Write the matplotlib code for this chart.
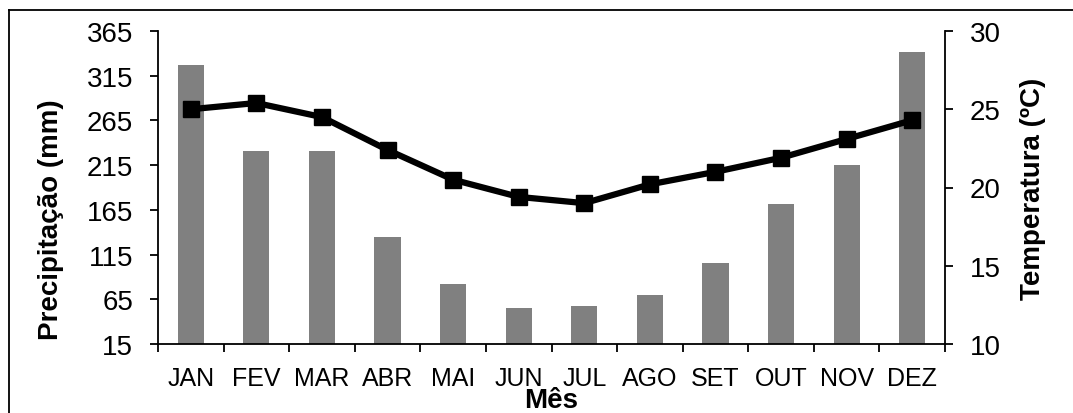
import numpy as np
import matplotlib
matplotlib.use("Agg")
import matplotlib.pyplot as plt
from matplotlib.lines import Line2D

plt.rcParams['font.family'] = ['Liberation Sans', 'DejaVu Sans']

# monthly data
meses = ['JAN', 'FEV', 'MAR', 'ABR', 'MAI', 'JUN', 'JUL', 'AGO', 'SET', 'OUT', 'NOV', 'DEZ']
precipitacao = [327, 231, 231, 135, 82, 55, 57, 70, 106, 171, 215, 342]
temperatura = [25.0, 25.4, 24.5, 22.4, 20.5, 19.4, 19.0, 20.2, 21.0, 21.9, 23.1, 24.3]
prec_ticks = [15, 65, 115, 165, 215, 265, 315, 365]
temp_ticks = [10, 15, 20, 25, 30]

W, H = 1073, 414
fig = plt.figure(figsize=(W / 100, H / 100), dpi=100)
ax = fig.add_axes([158 / W, 1 - 345 / H, (945 - 158) / W, (345 - 32) / H])

x = np.arange(len(meses))
ax.bar(x, [p - 15 for p in precipitacao], bottom=15, width=0.4, color='#808080', zorder=1)
ax.set_xlim(-0.5, len(meses) - 0.5)
ax.set_ylim(15, 365)
ax.set_yticks(prec_ticks)
ax.set_xticks(x)
ax.set_xticklabels(meses)
ax.set_xticks(np.arange(-0.5, len(meses)), minor=True)
ax.tick_params(axis='x', which='major', length=0, labelsize=18, pad=16)
ax.tick_params(axis='x', which='minor', length=6, width=1.3, direction='out')
ax.tick_params(axis='y', length=6, width=1.3, direction='out', labelsize=20, pad=12)
ax.spines['top'].set_visible(False)
ax.spines['right'].set_visible(False)
for s in ['left', 'bottom']:
    ax.spines[s].set_linewidth(1.3)
ax.set_ylabel('Precipitação (mm)', fontsize=20, fontweight='bold', labelpad=16)
ax.yaxis.label.set_y(0.40)
ax.set_xlabel('Mês', fontsize=20, fontweight='bold', labelpad=-2)

ax2 = ax.twinx()
ax2.plot(x, temperatura, color='black', linewidth=4.5, marker='s', markersize=11, zorder=3)
ax2.set_ylim(10, 30)
ax2.set_yticks(temp_ticks)
ax2.tick_params(axis='y', length=6, width=1.3, direction='out', labelsize=20, pad=12)
ax2.spines['top'].set_visible(False)
ax2.spines['left'].set_visible(False)
ax2.spines['bottom'].set_visible(False)
ax2.spines['right'].set_linewidth(1.3)
ax2.set_ylabel('Temperatura (ºC)', fontsize=20, fontweight='bold', labelpad=14)

# outer frame (top and left edges visible)
fig.add_artist(Line2D([9 / W, 1], [1 - 10.5 / H, 1 - 10.5 / H], transform=fig.transFigure, color='black', linewidth=1.3))
fig.add_artist(Line2D([9 / W, 9 / W], [0, 1 - 10.5 / H], transform=fig.transFigure, color='black', linewidth=1.3))

fig.savefig('out.png', dpi=100)
